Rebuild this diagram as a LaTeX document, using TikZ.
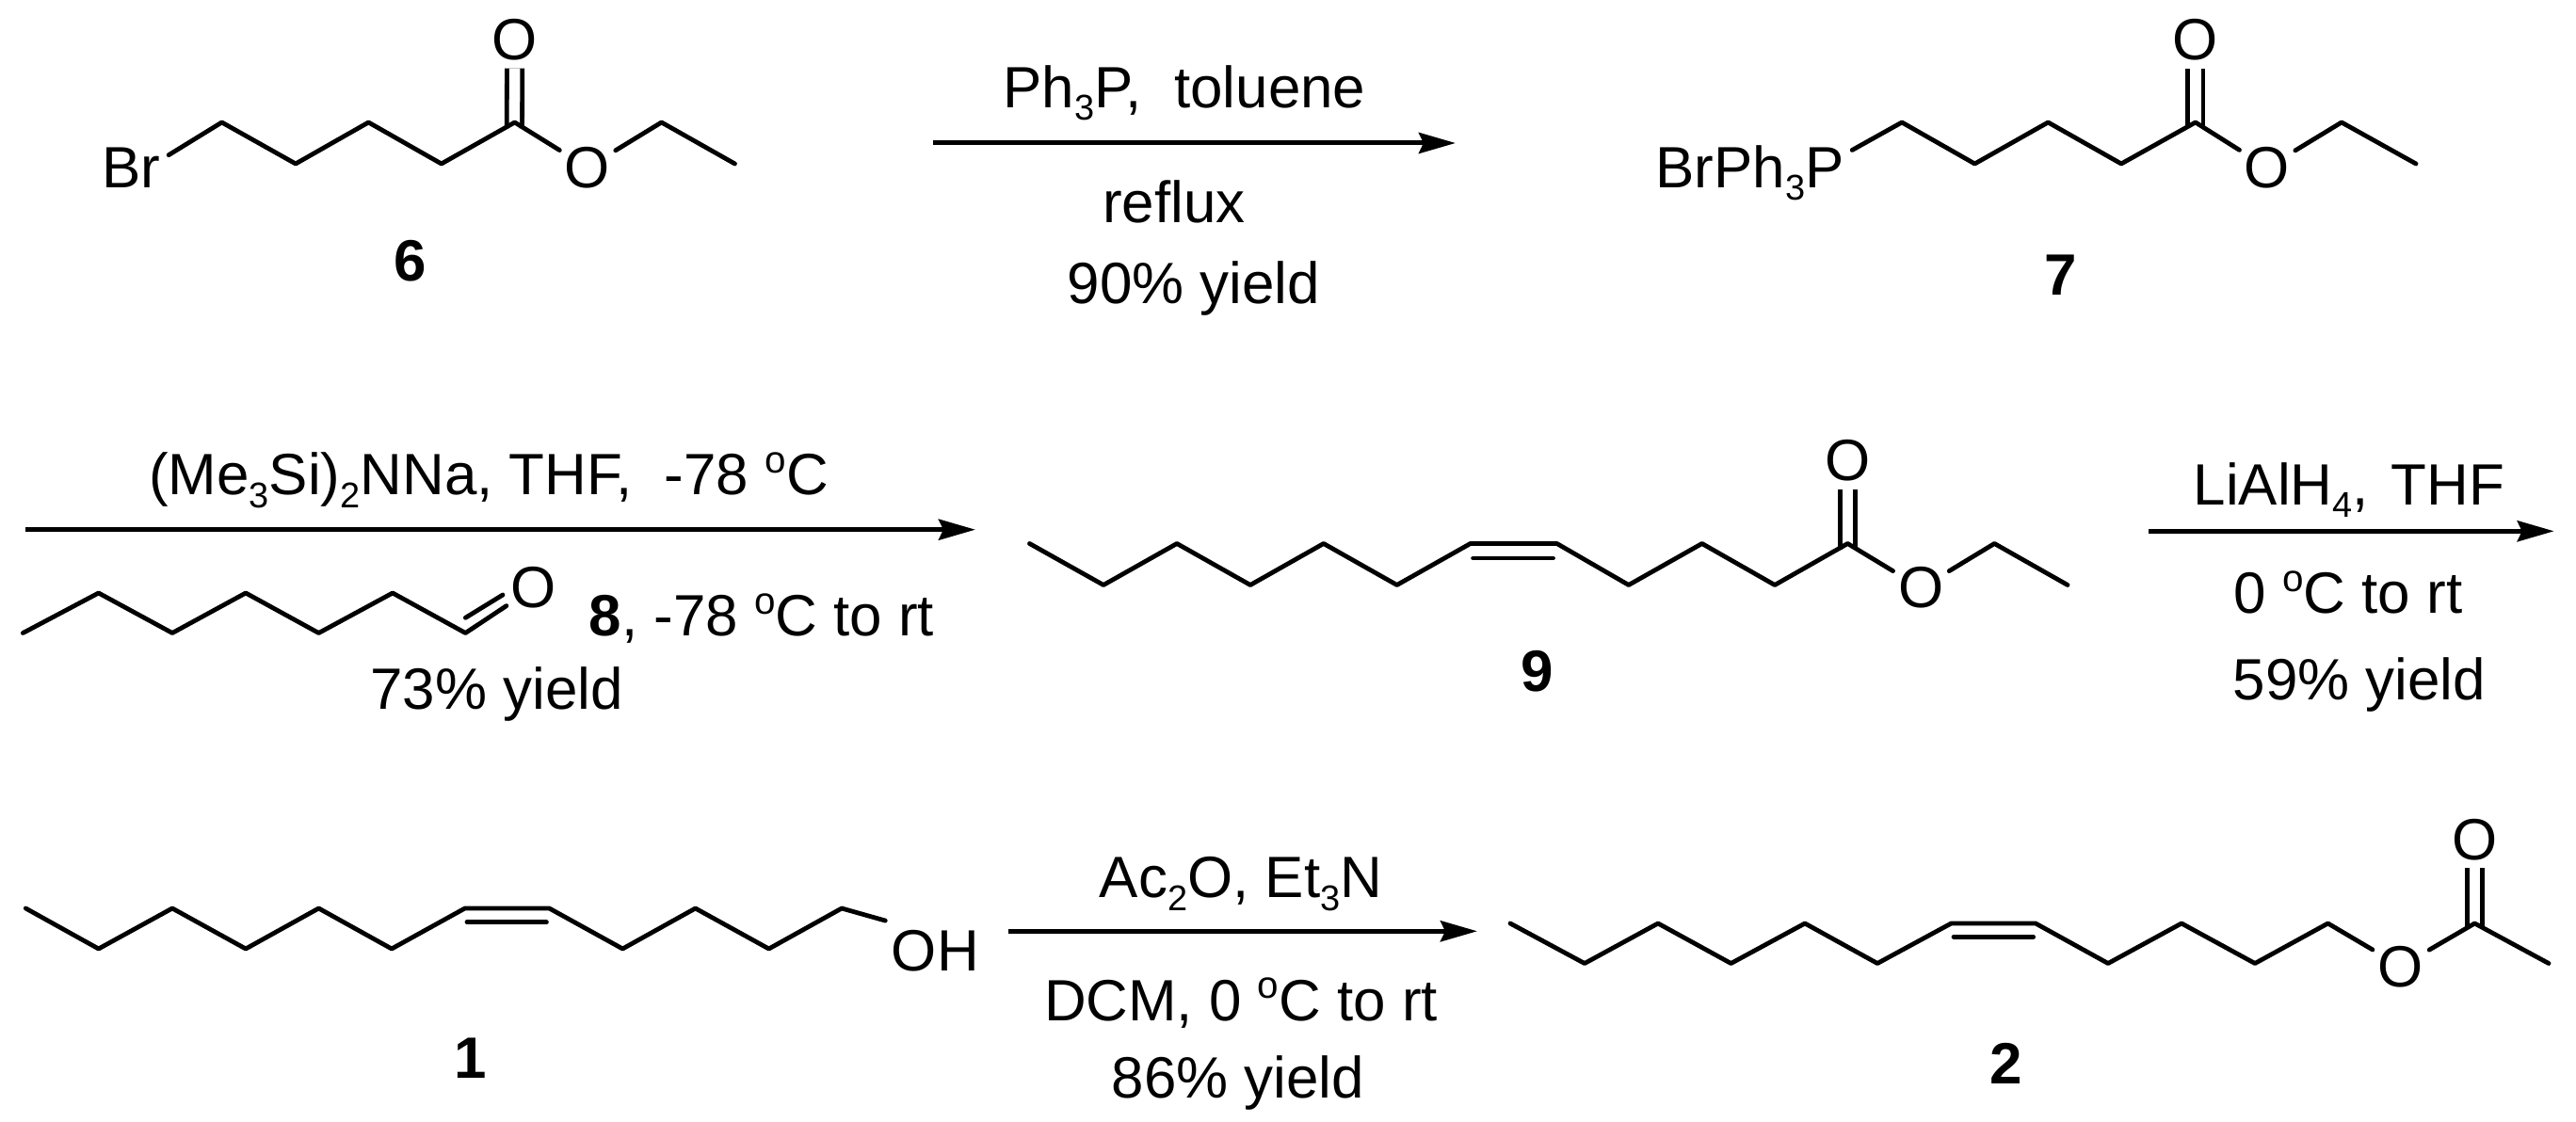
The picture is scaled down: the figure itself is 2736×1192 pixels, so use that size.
\documentclass[tikz,border=0pt]{standalone}
\usepackage{fontspec}
\setmainfont{Liberation Sans}
\usetikzlibrary{arrows.meta}

\newcommand{\lowidx}[1]{\raisebox{-0.13cm}{\fontsize{10.8}{12}\selectfont #1}}
\newcommand{\degsign}{\raisebox{0.23cm}{\fontsize{11.5}{12}\selectfont o}}

\tikzset{
  bond/.style={line width=0.048cm, line join=round, line cap=round},
  dblbond/.style={line width=0.048cm, double, double distance=0.115cm, shorten >=-0.05cm},
  rxnarrow/.style={line width=0.05cm, -{Stealth[length=0.39cm, width=0.22cm, inset=0.05cm]}},
  chemtext/.style={anchor=base, inner sep=0pt, font=\fontsize{17.6}{21}\selectfont},
  atom/.style={circle, inner sep=0pt, outer sep=0.025cm, font=\fontsize{17.6}{21}\selectfont},
  compound/.style={anchor=base, inner sep=0pt, font=\fontsize{17.6}{21}\selectfont\bfseries}
}

\begin{document}
\begin{tikzpicture}[x=0.01cm, y=-0.01cm]
    \useasboundingbox (0, 0) rectangle (2736, 1192);

    % bromo ester
    \node[chemtext] (brsix) at (139.5, 200) {Br};
    \node[atom] (osixtop) at (546.7, 42.7) {O};
    \node[atom] (osix) at (624, 178) {O};
    \draw[dblbond] (546.4, 136) -- (osixtop);
    \draw[bond] ([xshift=0.08cm, yshift=-0.08cm]brsix.north east) -- (235.6, 130) -- (314, 174) -- (391.4, 130) -- (468.8, 174) -- (546.7, 130) -- (osix);
    \draw[bond] (osix) -- (702.6, 130) -- (780.5, 174);
    \node[compound] (lblsix) at (436, 299) {6};

    % first step
    \coordinate (arrowAs) at (991, 152);
    \coordinate (arrowAe) at (1546, 152);
    \draw[rxnarrow] (arrowAs) -- (arrowAe);
    \node[chemtext] (stepAtop) at (1258, 115) {Ph\lowidx{3}P,~~toluene};
    \node[chemtext] (stepAmid) at (1247, 237) {reflux};
    \node[chemtext] (stepAlow) at (1268, 323) {90\% yield};

    % phosphonium ester
    \node[chemtext] (brseven) at (1858.5, 200) {BrPh\lowidx{3}P};
    \node[atom] (osevtop) at (2331.8, 42.7) {O};
    \node[atom] (oseven) at (2408, 178) {O};
    \draw[dblbond] (2331.8, 136) -- (osevtop);
    \draw[bond] ([xshift=0.08cm, yshift=-0.05cm]brseven.north east) -- (2020, 130) -- (2097.4, 174) -- (2175.3, 130) -- (2253, 174) -- (2331.8, 130) -- (oseven);
    \draw[bond] (oseven) -- (2487, 130) -- (2566, 174);
    \node[compound] (lblseven) at (2189, 314) {7};

    % wittig step
    \coordinate (arrowBs) at (27, 562.7);
    \coordinate (arrowBe) at (1036, 562.7);
    \draw[rxnarrow] (arrowBs) -- (arrowBe);
    \node[chemtext] (stepBtop) at (519, 526) {(Me\lowidx{3}Si)\lowidx{2}NNa, THF,~~-78 \degsign C};
    \node[atom] (oald) at (567, 624.3) {O};
    \draw[bond] (24.4, 672.5) -- (104.7, 630) -- (183, 672.5) -- (261, 630) -- (338.5, 672.5) -- (417, 630) -- (494.4, 672.5) -- (oald);
    \draw[bond] (494.4, 656.3) -- (534, 632);
    \node[chemtext] (stepBmid) at (809, 676) {\textbf{8}, -78 \degsign C to rt};
    \node[chemtext] (stepBlow) at (527.7, 753.7) {73\% yield};

    % alkene ester
    \node[atom] (ointop) at (1962.4, 489.7) {O};
    \node[atom] (onine) at (2040.4, 624.7) {O};
    \draw[dblbond] (1962.4, 584) -- (ointop);
    \draw[bond] (1093.5, 577.5) -- (1172, 621.5) -- (1250, 577.5) -- (1328, 621.5) -- (1405.8, 577.5) -- (1483.7, 621.5) -- (1561.7, 577.5) -- (1653.6, 577.5) -- (1729.8, 621.5) -- (1807.7, 577.5) -- (1885, 621.5) -- (1962.4, 577.5) -- (onine);
    \draw[bond] (1564.6, 593) -- (1649.5, 593);
    \draw[bond] (onine) -- (2118.3, 577.5) -- (2196, 621.5);
    \node[compound] (lblnine) at (1633, 735) {9};

    % reduction step
    \coordinate (arrowCs) at (2281.7, 564.3);
    \coordinate (arrowCe) at (2712.7, 564.3);
    \draw[rxnarrow] (arrowCs) -- (arrowCe);
    \node[chemtext] (stepCtop) at (2495, 537) {LiAlH\lowidx{4},\hspace{0.24cm}THF};
    \node[chemtext] (stepCmid) at (2494, 652) {0 \degsign C to rt};
    \node[chemtext] (stepClow) at (2506, 744) {59\% yield};

    % alcohol
    \node[chemtext] (ohone) at (993.4, 1032) {OH};
    \draw[bond] (27.3, 965) -- (104.7, 1008) -- (183, 965) -- (261, 1008) -- (338.5, 965) -- (416, 1008) -- (493.8, 965) -- (583.4, 965) -- (661.3, 1008) -- (738.6, 965) -- (816.6, 1008) -- (894, 965) -- ([xshift=-0.06cm, yshift=0.1cm]ohone.north west);
    \draw[bond] (496, 979.7) -- (580.4, 979.7);
    \node[compound] (lblone) at (500, 1146) {1};

    % acetylation step
    \coordinate (arrowDs) at (1070.8, 989.3);
    \coordinate (arrowDe) at (1569, 989.3);
    \draw[rxnarrow] (arrowDs) -- (arrowDe);
    \node[chemtext] (stepDtop) at (1318, 954) {Ac\lowidx{2}O, Et\lowidx{3}N};
    \node[chemtext] (stepDmid) at (1318, 1084) {DCM, 0 \degsign C to rt};
    \node[chemtext] (stepDlow) at (1315, 1166) {86\% yield};

    % acetate
    \node[atom] (oacet) at (2550, 1026.7) {O};
    \node[atom] (oacettop) at (2628.4, 892.3) {O};
    \draw[dblbond] (2628.4, 987) -- (oacettop);
    \draw[bond] (1604, 981) -- (1683, 1023.5) -- (1761, 981) -- (1838.5, 1023.5) -- (1917, 981) -- (1994, 1023.5) -- (2072.4, 981) -- (2162, 981) -- (2239, 1023.5) -- (2317, 981) -- (2395, 1023.5) -- (2472.5, 981) -- (oacet);
    \draw[bond] (2075, 995.3) -- (2159.6, 995.3);
    \draw[bond] (oacet) -- (2628.4, 981) -- (2707, 1023.5);
    \node[compound] (lbltwo) at (2130.5, 1151.7) {2};
\end{tikzpicture}
\end{document}
